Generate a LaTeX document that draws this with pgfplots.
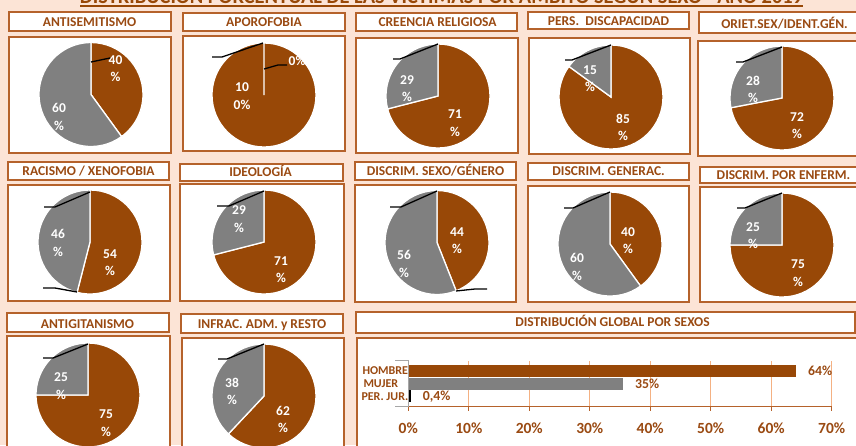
\documentclass[border=0pt]{standalone}
\usepackage{pgfplots}
\pgfplotsset{compat=1.18}
\usepackage{pgfplotstable}
\usepackage{fontspec}
\setmainfont{Carlito}
\definecolor{bg}{HTML}{FCE4D6}
\definecolor{pbrown}{HTML}{984807}
\definecolor{pgray}{HTML}{808080}
\definecolor{tbrown}{HTML}{9A4A12}
\definecolor{bord}{HTML}{B5622B}
\definecolor{gridc}{HTML}{F4B183}
\pgfdeclareplotmark{emptymark}{}

% pie centres (px, y downwards), start (%) and value (%) -- HOMBRE
\pgfplotstableread{
cx cy start val
91 94.5 0 40
264 95 0 100
438 96 0 71
611 97 0 85
782 98 0 72
90 242 0 54
264 242 0 71
437 242.5 0 44
610 244 0 40
782 245 0 75
88 395 0 75
264 396 0 62
}\hombre
% MUJER
\pgfplotstableread{
cx cy start val
91 94.5 40 60
438 96 71 29
611 97 85 15
782 98 72 28
90 242 54 46
264 242 71 29
437 242.5 44 56
610 244 40 60
782 245 75 25
88 395 75 25
264 396 62 38
}\mujer
% data labels
\pgfplotstableread{
x y v
115.5 68.5 40
59 117 60
455 123 71
407 88.5 29
590 78.5 15
623 127.5 85
753 89.5 28
797 125.5 72
58 243 46
110 262.5 54
239 219 29
281 269.5 71
457 240.5 44
404 264 56
628 240.5 40
577 267 60
753 235.5 25
798 273 75
61 386 25
106 423 75
232 391.5 38
283 419.5 62
}\labs

\newcommand\ttl[3]{\node[anchor=base,text=tbrown,font=\fontsize{13.5}{15}\selectfont\bfseries] at (#1,#2) {#3};}
\newcommand\bx[4]{\filldraw[fill=white,draw=bord,line width=1.5pt] (#1,#2) rectangle (#3,#4);}

\begin{document}
\begin{tikzpicture}
\useasboundingbox (0,0) rectangle (856pt,445pt);
\clip (0,0) rectangle (856pt,445pt);
\fill[bg] (0,0) rectangle (856pt,445pt);
\begin{scope}[x=1pt,y=-1pt,yshift=445pt]
% main title (cut at top)
\node[anchor=base,text=pbrown,inner sep=0pt] at (441.5,4) {\resizebox{723pt}{!}{\fontsize{18}{20}\selectfont\bfseries DISTRIBUCIÓN PORCENTUAL DE LAS VÍCTIMAS POR ÁMBITO SEGÚN SEXO - AÑO 2019}};
\fill[pbrown] (80,5) rectangle (803,7);
% title boxes
\bx{9}{12}{171}{31} \bx{183}{13}{345}{31} \bx{356}{13}{517}{31} \bx{528}{12}{689}{29} \bx{699}{12}{872}{33}
\bx{8}{162}{169}{180} \bx{180}{164}{343}{181} \bx{355}{162}{516}{180} \bx{528}{163}{689}{180} \bx{700}{167}{872}{183}
\bx{7}{313}{169}{332} \bx{181}{314}{343}{333} \bx{356}{312}{855}{333}
% panels
\bx{9}{37}{171}{153} \bx{183}{36}{345}{151} \bx{356}{38}{518}{153} \bx{529}{38}{690}{154} \bx{698}{41}{872}{156}
\bx{8}{185}{170}{301} \bx{180}{184}{344}{301} \bx{355}{185}{516}{302} \bx{528}{186}{689}{302} \bx{700}{187}{872}{302}
\bx{7}{336}{170}{460} \bx{182}{338}{344}{460} \bx{357}{338}{872}{460}
% titles
\ttl{89.5}{26.7}{ANTISEMITISMO}
\ttl{264}{26.7}{APOROFOBIA}
\ttl{437.5}{26.7}{CREENCIA RELIGIOSA}
\ttl{608.5}{25.7}{PERS.\ \ DISCAPACIDAD}
\ttl{784.5}{28.3}{ORIET.SEX/IDENT.GÉN.}
\ttl{88.5}{175.7}{RACISMO / XENOFOBIA}
\ttl{260.6}{177}{IDEOLOGÍA}
\ttl{435.5}{175.5}{DISCRIM. SEXO/GÉNERO}
\ttl{608.6}{175.7}{DISCRIM. GENERAC.}
\ttl{783.5}{179.3}{DISCRIM. POR ENFERM.}
\ttl{87.5}{328.3}{ANTIGITANISMO}
\ttl{262}{328.3}{INFRAC. ADM. y RESTO}
\ttl{612.5}{326.7}{DISTRIBUCIÓN GLOBAL POR SEXOS}
\end{scope}

% ---------- pies ----------
\begin{axis}[at={(0,0)},anchor=south west,scale only axis,width=856pt,height=445pt,
  xmin=0,xmax=856,ymin=0,ymax=445,y dir=reverse,hide axis,clip=false,
  /pgf/number format/assume math mode=true]
\addplot[scatter,only marks,mark=emptymark,
  visualization depends on={\thisrow{start} \as \pst},
  visualization depends on={\thisrow{val} \as \pvl},
  scatter/@pre marker code/.code={\filldraw[fill=pbrown,draw=white,line width=1.3pt] (0,0) -- ({90-3.6*\pst}:52pt) arc[start angle={90-3.6*\pst},delta angle={-3.6*\pvl},radius=52pt] -- cycle;},
  scatter/@post marker code/.code={}]
  table[x=cx,y=cy] \hombre;
\addplot[scatter,only marks,mark=emptymark,
  visualization depends on={\thisrow{start} \as \pst},
  visualization depends on={\thisrow{val} \as \pvl},
  scatter/@pre marker code/.code={\filldraw[fill=pgray,draw=white,line width=1.3pt] (0,0) -- ({90-3.6*\pst}:52pt) arc[start angle={90-3.6*\pst},delta angle={-3.6*\pvl},radius=52pt] -- cycle;},
  scatter/@post marker code/.code={}]
  table[x=cx,y=cy] \mujer;
\draw[pgray,line width=0.8pt] (axis cs:264,43.5) -- (axis cs:264,95);
\addplot[only marks,mark=emptymark,point meta=\thisrow{v},
  nodes near coords={\pgfmathprintnumber[assume math mode=true]{\pgfplotspointmeta}\\\%},
  every node near coord/.append style={anchor=center,align=center,text=white,inner sep=0pt,
    font=\fontsize{13.5}{17.5}\selectfont\bfseries}]
  table[x=x,y=y] \labs;
\addplot[only marks,mark=emptymark,point meta=explicit symbolic,
  nodes near coords,
  every node near coord/.append style={anchor=center,text=white,inner sep=0pt,
    font=\fontsize{13.5}{17.5}\selectfont\bfseries}]
  coordinates {(242,87) [10] (242,105) [0\%] (297,60.5) [0\%]};
\end{axis}

% leader lines
\begin{scope}[x=1pt,y=-1pt,yshift=445pt,line width=1.3pt,black]
\draw (91,62) -- (110,58);
\draw (212,57) -- (222,57) -- (263,43);
\draw (264,69) -- (278,65) -- (287,65);
\draw (393,59) -- (400,59) -- (438,44);
\draw (565,60) -- (572,60) -- (611,45);
\draw (736,62) -- (743,62) -- (782,47);
\draw (44,207) -- (55,207) -- (90,192);
\draw (43,288) -- (55,288) -- (77,292);
\draw (217,206) -- (229,206) -- (264,191);
\draw (390,207) -- (401,207) -- (437,191);
\draw (456,291) -- (475,289) -- (487,289);
\draw (564,208) -- (573,208) -- (610,192);
\draw (737,208) -- (745,208) -- (782,193);
\draw (43,358) -- (53,358) -- (88,344);
\draw (218,359) -- (227,359) -- (264,344);
\end{scope}

% ---------- global bar chart ----------
\begin{axis}[at={(408.3pt,38.3pt)},anchor=south west,scale only axis,
  width=423.4pt,height=46pt,
  xbar,bar width=12pt,bar shift=0pt,
  xmin=0,xmax=70,ymin=-0.8,ymax=2.8,
  axis x line*=bottom,axis y line=none,
  x axis line style={draw=bord,line width=1pt,-},
  xtick={0,10,...,70},ytick=\empty,
  xmajorgrids,grid style={gridc,line width=0.9pt},
  tick style={draw=bord,line width=0.8pt},major tick length=4pt,tick align=outside,
  /pgf/number format/assume math mode=true,
  xticklabel={\pgfmathprintnumber{\tick}\%},
  xticklabel style={font=\fontsize{15.5}{17}\selectfont\bfseries,text=tbrown,inner sep=0pt,yshift=-12pt},
  nodes near coords,point meta=explicit symbolic,
  every node near coord/.append style={font=\fontsize{13.8}{15}\selectfont\bfseries,text=tbrown,anchor=west,inner sep=0pt,xshift=12pt},
  clip=false]
\addplot[fill=pbrown,draw=none] coordinates {(64.1,2) [64\%]};
\addplot[fill=pgray,draw=none] coordinates {(35.5,1) [35\%]};
\addplot[fill=black,draw=none] coordinates {(0.4,0) [0,4\%]};
\draw[gray!70,line width=1pt] ([xshift=-13pt]axis cs:0,2.8) -- (axis cs:0,2.8) -- (axis cs:0,-0.8) -- ([xshift=-13pt]axis cs:0,-0.8);
\node[anchor=west,text=tbrown,font=\fontsize{12}{13}\selectfont\bfseries,inner sep=0pt] at ([xshift=-46pt]axis cs:0,2) {HOMBRE};
\node[anchor=west,text=tbrown,font=\fontsize{12}{13}\selectfont\bfseries,inner sep=0pt] at ([xshift=-45pt]axis cs:0,1) {MUJER};
\node[anchor=west,text=tbrown,font=\fontsize{12}{13}\selectfont\bfseries,inner sep=0pt] at ([xshift=-47pt]axis cs:0,0) {PER. JUR.};
\end{axis}
\end{tikzpicture}
\end{document}
